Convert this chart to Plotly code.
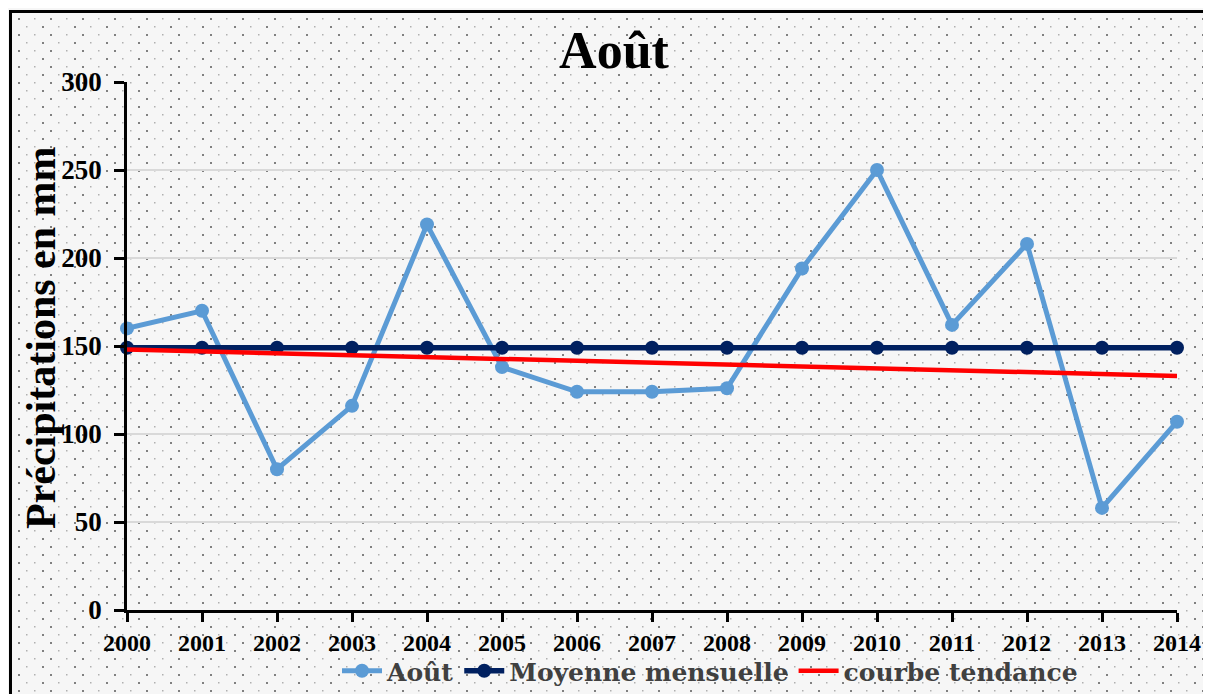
import base64

import plotly.graph_objects as go

# data
years = list(range(2000, 2015))
aout_mm = [160, 170, 80, 116, 219, 138, 124, 124, 126, 194, 250, 162, 208, 58, 107]
moyenne_mm = [149] * len(years)
trend_years = [2000, 2014]
trend_mm = [148, 133]

y_ticks = [0, 50, 100, 150, 200, 250, 300]

# the page body has an 8px margin, so the figure is a bit smaller than the window
OFF = 8
W, H = 1211 - OFF, 694 - OFF
L, R, T, B = 127 - OFF, 34, 82 - OFF, 84
plot_w, plot_h = W - L - R, H - T - B

SERIF = "Liberation Serif, Times New Roman, serif"
WIDE_SERIF = "DejaVu Serif, Liberation Serif, serif"


def px_x(x):
    # window pixel -> x paper fraction
    return (x - 127) / plot_w


def px_y(y):
    # window pixel -> y paper fraction
    return (610 - y) / plot_h


def dotted_background() -> str:
    # Excel-like dotted fill drawn as an svg data uri
    svg = (
        f'<svg xmlns="http://www.w3.org/2000/svg" width="{W}" height="{H}">'
        '<defs><pattern id="p" width="32" height="16" patternUnits="userSpaceOnUse">'
        '<rect x="2" y="2" width="2" height="2" fill="#808080"/>'
        '<rect x="18" y="2" width="1.5" height="1.5" fill="#b0b0b0"/>'
        '<rect x="10" y="10" width="2" height="2" fill="#808080"/>'
        '<rect x="26" y="10" width="1.5" height="1.5" fill="#b0b0b0"/>'
        '</pattern></defs>'
        f'<rect width="{W}" height="{H}" fill="#f6f6f6"/>'
        f'<rect width="{W}" height="{H}" fill="url(#p)"/>'
        '</svg>'
    )
    return "data:image/svg+xml;base64," + base64.b64encode(svg.encode()).decode()


fig = go.Figure()
fig.add_trace(go.Scatter(
    x=years, y=aout_mm, name="Août", mode="lines+markers",
    line={"color": "#5b9bd5", "width": 5},
    marker={"color": "#5b9bd5", "size": 14},
    cliponaxis=False,
))
fig.add_trace(go.Scatter(
    x=years, y=moyenne_mm, name="Moyenne mensuelle", mode="lines+markers",
    line={"color": "#002060", "width": 5.5},
    marker={"color": "#002060", "size": 14},
    cliponaxis=False,
))
fig.add_trace(go.Scatter(
    x=trend_years, y=trend_mm, name="courbe tendance", mode="lines",
    line={"color": "#ff0000", "width": 4.5},
    cliponaxis=False,
))

fig.update_layout(
    width=W,
    height=H,
    margin={"l": L, "r": R, "t": T, "b": B, "autoexpand": False},
    paper_bgcolor="white",
    plot_bgcolor="rgba(0,0,0,0)",
    font={"family": SERIF, "color": "black"},
    title={
        "text": "<b>Août</b>",
        "font": {"size": 52, "family": SERIF, "color": "black"},
        "x": (614 - OFF) / W, "xanchor": "center",
        "y": 1 - (50 - OFF) / H, "yanchor": "middle",
    },
    xaxis={
        "range": [2000, 2014],
        "tickvals": years,
        "ticktext": [str(y) for y in years],
        "tickfont": {"size": 24, "family": SERIF, "color": "black", "weight": "bold"},
        "ticks": "outside", "ticklen": 9, "tickwidth": 2.5, "tickcolor": "black",
        "showline": True, "linecolor": "black", "linewidth": 2.5,
        "showgrid": False, "zeroline": False,
    },
    yaxis={
        "range": [0, 300],
        "tickvals": y_ticks,
        "ticktext": [str(v) for v in y_ticks],
        "tickfont": {"size": 27, "family": SERIF, "color": "black", "weight": "bold"},
        "ticks": "outside", "ticklen": 10, "tickwidth": 2.5, "tickcolor": "black",
        "ticklabelstandoff": 7,
        "showline": True, "linecolor": "black", "linewidth": 2.5,
        "showgrid": True, "gridcolor": "#d9d9d9", "gridwidth": 2,
        "zeroline": False,
    },
    annotations=[{
        "text": "<b>Précipitations en mm</b>",
        "xref": "paper", "yref": "paper",
        "x": px_x(41), "y": px_y(338),
        "xanchor": "center", "yanchor": "middle",
        "textangle": -90, "showarrow": False,
        "font": {"size": 42, "family": SERIF, "color": "black"},
    }],
    legend={
        "orientation": "h",
        "x": px_x(337), "xanchor": "left",
        "y": px_y(671), "yanchor": "middle",
        "font": {"size": 25, "family": WIDE_SERIF, "color": "#404040", "weight": "bold"},
        "bgcolor": "rgba(0,0,0,0)",
        "itemwidth": 40,
        "traceorder": "normal",
    },
    showlegend=True,
    images=[{
        "source": dotted_background(),
        "xref": "paper", "yref": "paper",
        "x": -L / plot_w, "y": 1 + T / plot_h,
        "sizex": W / plot_w, "sizey": H / plot_h,
        "xanchor": "left", "yanchor": "top",
        "sizing": "stretch", "layer": "below",
    }],
    # only the left and top edges of the chart frame are in view
    shapes=[
        {"type": "line", "xref": "paper", "yref": "paper",
         "x0": px_x(10.5), "x1": px_x(10.5), "y0": px_y(700), "y1": px_y(11),
         "line": {"color": "black", "width": 3}, "layer": "above"},
        {"type": "line", "xref": "paper", "yref": "paper",
         "x0": px_x(9), "x1": px_x(1220), "y0": px_y(11.5), "y1": px_y(11.5),
         "line": {"color": "black", "width": 3}, "layer": "above"},
    ],
)

fig.write_html("out.html")
